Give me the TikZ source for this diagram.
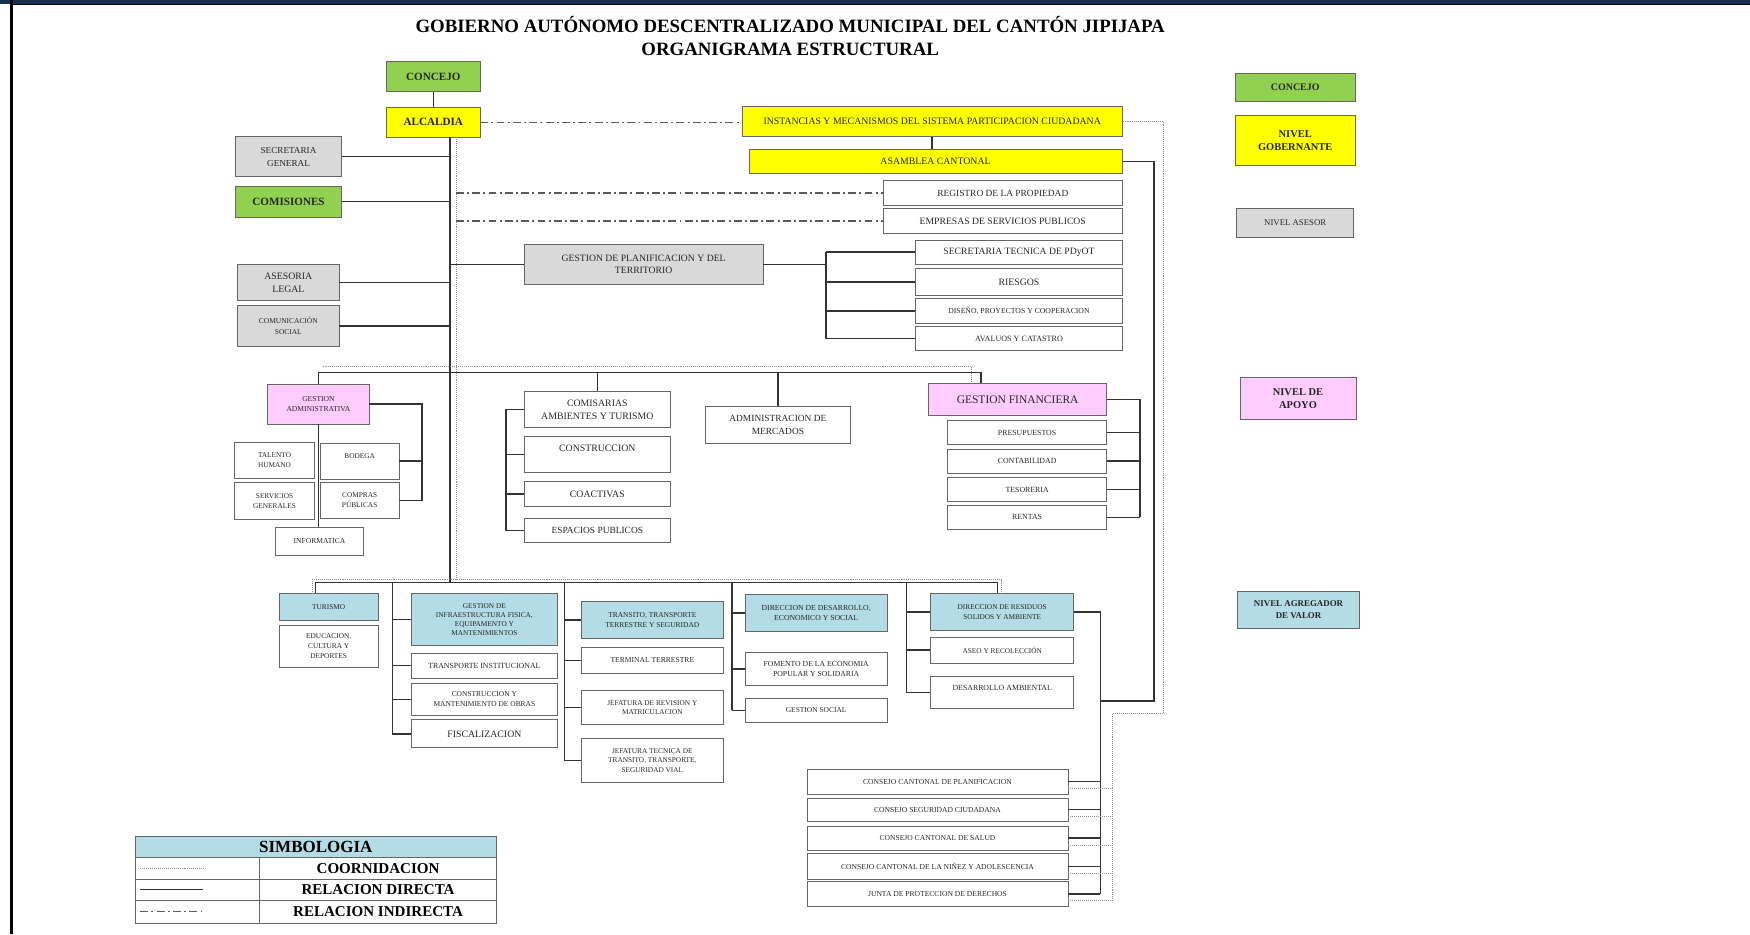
\documentclass[tikz,border=0pt]{standalone}
\usepackage{fontspec}
\setmainfont{Liberation Serif}
\usepackage{xcolor}
\definecolor{verde}{HTML}{92D050}
\definecolor{amarillo}{HTML}{FFFF00}
\definecolor{gris}{HTML}{D9D9D9}
\definecolor{rosa}{HTML}{FFCCFF}
\definecolor{celeste}{HTML}{B4DCE6}
\definecolor{marino}{HTML}{17304F}
\newcommand{\fsz}[2]{\fontsize{#1}{#2}\selectfont}
\tikzset{
  box/.style={draw=black!60, line width=0.6pt, inner sep=0.5pt, align=center, text=black!85},
  wh/.style 2 args={minimum width=#1*0.3mm, minimum height=#2*0.3mm},
  directa/.style={black!80, line width=1.1pt},
  indirecta/.style={black!65, line width=0.9pt, dash pattern=on 6pt off 2.5pt on 1.5pt off 2.5pt},
  coordina/.style={black!45, line width=0.5pt, densely dotted}
}
\begin{document}
\begin{tikzpicture}[x=0.3mm, y=-0.3mm]
\useasboundingbox (0,0) rectangle (1568,837);
\fill[marino] (0,0) rectangle (1568,3.3);
\fill[black] (9,3.3) rectangle (1568,4.6);
\fill[black] (9,0) rectangle (12,837);
\node[font=\fsz{14.4}{16}\bfseries] (titulo) at (708,22.4) {GOBIERNO AUTÓNOMO DESCENTRALIZADO MUNICIPAL DEL CANTÓN JIPIJAPA};
\node[font=\fsz{14.4}{16}\bfseries] (subtitulo) at (708,44.5) {ORGANIGRAMA ESTRUCTURAL};
% nivel gobernante
\node[box, fill=verde, wh={83.5}{27}, font=\fsz{8.5}{10}\bfseries] (concejo) at (388.25,68.5) {CONCEJO};
\node[box, fill=amarillo, wh={83.5}{27}, font=\fsz{8.5}{10}\bfseries] (alcaldia) at (388.25,109.5) {ALCALDIA};
\node[box, fill=amarillo, wh={340.5}{27.5}, font=\fsz{7.5}{9}] (instancias) at (835.25,108.75) {INSTANCIAS Y MECANISMOS DEL SISTEMA PARTICIPACION CIUDADANA};
\node[box, fill=amarillo, wh={334.5}{22}, font=\fsz{7.5}{9}] (asamblea) at (838.25,144.5) {ASAMBLEA CANTONAL};
\node[box, fill=gris, wh={95}{35.8}, font=\fsz{7}{10}] (secgeneral) at (258.5,140.4) {SECRETARIA\\GENERAL};
\node[box, fill=verde, wh={95}{28}, font=\fsz{8.5}{10}\bfseries] (comisiones) at (258.5,180.7) {COMISIONES};
\node[box, wh={214}{22}, font=\fsz{7.2}{8}] (registro) at (898.5,173) {REGISTRO DE LA PROPIEDAD};
\node[box, wh={214}{22}, font=\fsz{7.4}{8}] (empresas) at (898.5,198) {EMPRESAS DE SERVICIOS PUBLICOS};
% nivel asesor
\node[box, fill=gris, wh={214}{35.8}, font=\fsz{7.4}{9}] (planif) at (576.7,236.9) {GESTION DE PLANIFICACION Y DEL\\TERRITORIO};
\node[box, wh={186}{21.7}, font=\fsz{7.4}{9}] (sectecnica) at (913,225.85) {SECRETARIA TECNICA DE PDyOT};
\node[box, wh={186}{24.6}, font=\fsz{7.5}{9}] (riesgos) at (913,252.7) {RIESGOS};
\node[box, wh={186}{21.8}, font=\fsz{5.9}{7}] (diseno) at (913,278.7) {DISEÑO, PROYECTOS Y COOPERACION};
\node[box, wh={186}{21.4}, font=\fsz{6.2}{7}] (avaluos) at (913,303.3) {AVALUOS Y CATASTRO};
\node[box, fill=gris, wh={90.7}{32.7}, font=\fsz{7.5}{10}] (asesoria) at (258.35,253.05) {ASESORIA\\LEGAL};
\node[box, fill=gris, wh={90.7}{36}, font=\fsz{5.7}{8}] (comunicacion) at (258.35,292) {COMUNICACIÓN\\SOCIAL};
% nivel de apoyo
\node[box, fill=rosa, wh={90.7}{36}, font=\fsz{5.8}{8}] (gadmin) at (285.35,362) {GESTION\\ADMINISTRATIVA};
\node[box, wh={71.2}{32.3}, font=\fsz{5.6}{7.5}] (talento) at (246,412.45) {TALENTO\\HUMANO};
\node[box, wh={70.5}{32.5}, font=\fsz{5.6}{7.5}] (bodega) at (322.25,413.25) {BODEGA\\\phantom{X}};
\node[box, wh={71.2}{32.8}, font=\fsz{5.6}{7.5}] (servicios) at (246,448.9) {SERVICIOS\\GENERALES};
\node[box, wh={70.5}{31.9}, font=\fsz{5.6}{7.5}] (compras) at (322.25,448.45) {COMPRAS\\PÚBLICAS};
\node[box, wh={78.6}{24.5}, font=\fsz{5.8}{7.5}] (informatica) at (286.3,485.05) {INFORMATICA};
\node[box, wh={130.4}{32.8}, font=\fsz{7.5}{10}] (comisarias) at (535.2,366.8) {COMISARIAS\\AMBIENTES Y TURISMO};
\node[box, wh={130.4}{32.8}, font=\fsz{7.5}{10}] (construccion) at (535.2,407.1) {CONSTRUCCION\\\phantom{X}};
\node[box, wh={130.4}{21.8}, font=\fsz{7.5}{10}] (coactivas) at (535.2,442.5) {COACTIVAS};
\node[box, wh={130.4}{21.5}, font=\fsz{7.2}{10}] (espacios) at (535.2,475.55) {ESPACIOS PUBLICOS};
\node[box, wh={130}{32.9}, font=\fsz{7.2}{10}] (mercados) at (697,380.85) {ADMINISTRACION DE\\MERCADOS};
\node[box, fill=rosa, wh={159.6}{28.2}, font=\fsz{8.8}{10}] (gfinanciera) at (911.8,357.9) {GESTION FINANCIERA};
\node[box, wh={142.6}{21}, font=\fsz{6}{7}] (presupuestos) at (920.3,387.5) {PRESUPUESTOS};
\node[box, wh={142.6}{21.5}, font=\fsz{6}{7}] (contabilidad) at (920.3,413.25) {CONTABILIDAD};
\node[box, wh={142.6}{21.8}, font=\fsz{6}{7}] (tesoreria) at (920.3,438.6) {TESORERIA};
\node[box, wh={142.6}{21.5}, font=\fsz{6}{7}] (rentas) at (920.3,463.55) {RENTAS};
% nivel agregador de valor
\node[box, fill=celeste, wh={89}{24}, font=\fsz{5.6}{7.5}] (turismo) at (294.5,544) {TURISMO};
\node[box, wh={89}{38}, font=\fsz{5.6}{7.5}] (educacion) at (294.5,579) {EDUCACION,\\CULTURA Y\\DEPORTES};
\node[box, fill=celeste, wh={130}{46}, font=\fsz{5.6}{7}] (infra) at (434,555) {GESTION DE\\INFRAESTRUCTURA FISICA,\\EQUIPAMENTO Y\\MANTENIMIENTOS};
\node[box, wh={130}{23}, font=\fsz{6}{7.5}] (transinst) at (434,596.5) {TRANSPORTE INSTITUCIONAL};
\node[box, wh={130}{29}, font=\fsz{5.7}{7.5}] (obras) at (434,626.5) {CONSTRUCCION Y\\MANTENIMIENTO DE OBRAS};
\node[box, wh={130}{25}, font=\fsz{7.5}{9}] (fiscalizacion) at (434,657.5) {FISCALIZACION};
\node[box, fill=celeste, wh={127}{33}, font=\fsz{5.7}{7.5}] (transito) at (584.5,555.5) {TRANSITO, TRANSPORTE\\TERRESTRE Y SEGURIDAD};
\node[box, wh={127}{22.5}, font=\fsz{5.8}{7.5}] (terminal) at (584.5,591.75) {TERMINAL TERRESTRE};
\node[box, wh={127}{30}, font=\fsz{5.6}{7.5}] (jefrevision) at (584.5,634) {JEFATURA DE REVISION Y\\MATRICULACION};
\node[box, wh={127}{39}, font=\fsz{5.6}{7.5}] (jeftecnica) at (584.5,681.5) {JEFATURA TECNICA DE\\TRANSITO, TRANSPORTE,\\SEGURIDAD VIAL};
\node[box, fill=celeste, wh={127.4}{32.5}, font=\fsz{5.9}{7.5}] (ddesarrollo) at (731.3,549.25) {DIRECCION DE DESARROLLO,\\ECONOMICO Y SOCIAL};
\node[box, wh={127.4}{29.5}, font=\fsz{5.9}{7.5}] (fomento) at (731.3,599.25) {FOMENTO DE LA ECONOMIA\\POPULAR Y SOLIDARIA};
\node[box, wh={127.4}{22}, font=\fsz{5.7}{7.5}] (gsocial) at (731.3,636.6) {GESTION SOCIAL};
\node[box, fill=celeste, wh={128}{33}, font=\fsz{5.6}{7.5}] (dresiduos) at (898,548.5) {DIRECCION DE RESIDUOS\\SOLIDOS Y AMBIENTE};
\node[box, wh={128}{23}, font=\fsz{5.6}{7.5}] (aseo) at (898,582.5) {ASEO Y RECOLECCIÓN};
\node[box, wh={128}{29}, font=\fsz{6}{7.5}] (desambiental) at (898,620.5) {DESARROLLO AMBIENTAL\\\phantom{X}};
\node[box, wh={234}{22.5}, font=\fsz{5.8}{7.5}] (consejo1) at (840,700.25) {CONSEJO CANTONAL DE PLANIFICACION};
\node[box, wh={234}{21}, font=\fsz{5.8}{7.5}] (consejo2) at (840,725.5) {CONSEJO SEGURIDAD CIUDADANA};
\node[box, wh={234}{22}, font=\fsz{5.8}{7.5}] (consejo3) at (840,751) {CONSEJO CANTONAL DE SALUD};
\node[box, wh={234}{22.6}, font=\fsz{5.8}{7.5}] (consejo4) at (840,776.3) {CONSEJO CANTONAL DE LA NIÑEZ Y ADOLESCENCIA};
\node[box, wh={234}{22}, font=\fsz{5.8}{7.5}] (consejo5) at (840,801) {JUNTA DE PROTECCION DE DERECHOS};
% niveles
\node[box, fill=verde, wh={107}{24.5}, font=\fsz{7.6}{9}\bfseries] (lconcejo) at (1160.5,78.25) {CONCEJO};
\node[box, fill=amarillo, wh={107}{44.3}, font=\fsz{8}{10}\bfseries] (lgobernante) at (1160.5,125.85) {NIVEL\\GOBERNANTE};
\node[box, fill=gris, wh={105}{26}, font=\fsz{6.7}{8}] (lasesor) at (1160.5,199.7) {NIVEL ASESOR};
\node[box, fill=rosa, wh={104}{37}, font=\fsz{8}{10}\bfseries] (lapoyo) at (1163,357) {NIVEL DE\\APOYO};
\node[box, fill=celeste, wh={109}{33}, font=\fsz{6.8}{9}\bfseries] (lagregador) at (1163.5,546.5) {NIVEL AGREGADOR\\DE VALOR};
% conexiones
\coordinate (ta) at (403,123);
\coordinate (tb) at (403,522);
\coordinate (da) at (408.5,123);
\coordinate (db) at (408.5,519.5);
\draw[directa] (concejo) -- (alcaldia);
\draw[directa] (ta) -- (tb);
\draw[coordina] (da) -- (db);
\foreach \n in {secgeneral,comisiones,asesoria,comunicacion}
\draw[directa] (\n.east) -- (\n.east -| ta);
\draw[directa] (ta |- planif.west) -- (planif.west);
\draw[indirecta] (alcaldia.east) -- (alcaldia.east -| instancias.west);
\foreach \n in {registro,empresas}
\draw[indirecta] (da |- \n.west) -- (\n.west);
\coordinate (pb) at (740,236.9);
\draw[directa] (planif.east) -- (pb);
\draw[directa] (sectecnica.west -| pb) -- (avaluos.west -| pb);
\foreach \n in {sectecnica,riesgos,diseno,avaluos}
\draw[directa] (\n.west -| pb) -- (\n.west);
\draw[directa] (instancias.south) -- (instancias.south |- asamblea.north);
\coordinate (ar) at (1034,628);
\coordinate (cb) at (986,548.5);
\draw[directa] (asamblea.east) -| (ar) -- (ar -| cb);
\draw[directa] (dresiduos.east) -- (cb) -- (cb |- consejo5.east);
\foreach \n in {consejo1,consejo2,consejo3,consejo4,consejo5}
\draw[directa] (\n.east) -- (\n.east -| cb);
\coordinate (ca) at (1042.6,639);
\coordinate (cc) at (997,806);
\draw[coordina] (instancias.east) -| (ca) -| (cc);
\foreach \n in {consejo1,consejo2,consejo3,consejo4,consejo5}
\draw[coordina] ([yshift=-1.8mm]\n.east) -- ++(40,0);
\coordinate (ml) at (285.35,334);
\coordinate (mr) at (879,334);
\draw[directa] (gadmin.north) -- (ml) -- (mr) -- (mr |- gfinanciera.north);
\draw[directa] (comisarias.north) -- (comisarias.north |- ml);
\draw[directa] (mercados.north) -- (mercados.north |- ml);
\coordinate (mdl) at (289,328);
\coordinate (mdr) at (870,328);
\draw[coordina] (mdl) -- (mdr) -- (mdr |- gfinanciera.north);
\coordinate (gb) at (378,362);
\draw[directa] (gadmin.east) -- (gb) -- (gb |- compras.east);
\foreach \n in {bodega,compras}
\draw[directa] (\n.east) -- (\n.east -| gb);
\draw[directa] (gadmin.south) -- (gadmin.south |- informatica.north);
\coordinate (kb) at (453.2,366.8);
\draw[directa] (kb) -- (kb |- espacios.west);
\foreach \n in {comisarias,construccion,coactivas,espacios}
\draw[directa] (\n.west -| kb) -- (\n.west);
\coordinate (fb) at (1021.6,357.9);
\draw[directa] (gfinanciera.east) -- (fb) -- (fb |- rentas.east);
\foreach \n in {presupuestos,contabilidad,tesoreria,rentas}
\draw[directa] (\n.east) -- (\n.east -| fb);
\coordinate (bl) at (282.5,522);
\coordinate (br) at (894,522);
\draw[directa] (bl |- turismo.north) -- (bl) -- (br) -- (br |- dresiduos.north);
\coordinate (dbl) at (279.5,519.5);
\coordinate (dbr) at (897,519.5);
\draw[coordina] (dbl |- turismo.north) -- (dbl) -- (dbr) -- (dbr |- dresiduos.north);
\coordinate (b1) at (351.5,522);
\draw[directa] (b1) -- (b1 |- fiscalizacion.west);
\foreach \n in {infra,transinst,obras,fiscalizacion}
\draw[directa] (\n.west -| b1) -- (\n.west);
\coordinate (b2) at (506,522);
\draw[directa] (b2) -- (b2 |- jeftecnica.west);
\foreach \n in {transito,terminal,jefrevision,jeftecnica}
\draw[directa] (\n.west -| b2) -- (\n.west);
\coordinate (b3) at (656,522);
\draw[directa] (b3) -- (b3 |- gsocial.west);
\foreach \n in {ddesarrollo,fomento,gsocial}
\draw[directa] (\n.west -| b3) -- (\n.west);
\coordinate (b4) at (812,522);
\draw[directa] (b4) -- (b4 |- desambiental.west);
\foreach \n in {dresiduos,aseo,desambiental}
\draw[directa] (\n.west -| b4) -- (\n.west);
% simbologia
\node[draw=black!60, fill=celeste, wh={324}{19.5}, inner sep=0pt, font=\fsz{13}{15}\bfseries] (simb) at (283,758.75) {SIMBOLOGIA};
\node[draw=black!60, wh={111.5}{19.1}, inner sep=0pt] (s1) at (176.75,778.05) {};
\node[draw=black!60, wh={212.5}{19.1}, inner sep=0pt, font=\fsz{11.5}{13}\bfseries] (coor) at (338.75,778.05) {COORNIDACION};
\node[draw=black!60, wh={111.5}{19.1}, inner sep=0pt] (s2) at (176.75,797.15) {};
\node[draw=black!60, wh={212.5}{19.1}, inner sep=0pt, font=\fsz{11.5}{13}\bfseries] (dir) at (338.75,797.15) {RELACION DIRECTA};
\node[draw=black!60, wh={111.5}{20.3}, inner sep=0pt] (s3) at (176.75,816.85) {};
\node[draw=black!60, wh={212.5}{20.3}, inner sep=0pt, font=\fsz{11.5}{13}\bfseries] (ind) at (338.75,816.85) {RELACION INDIRECTA};
\draw[coordina] ([xshift=1.5mm]s1.west) -- ([xshift=1.6mm]s1.center);
\draw[directa] ([xshift=1.5mm]s2.west) -- ([xshift=1.6mm]s2.center);
\draw[indirecta] ([xshift=1.5mm]s3.west) -- ([xshift=1.6mm]s3.center);
\end{tikzpicture}
\end{document}
